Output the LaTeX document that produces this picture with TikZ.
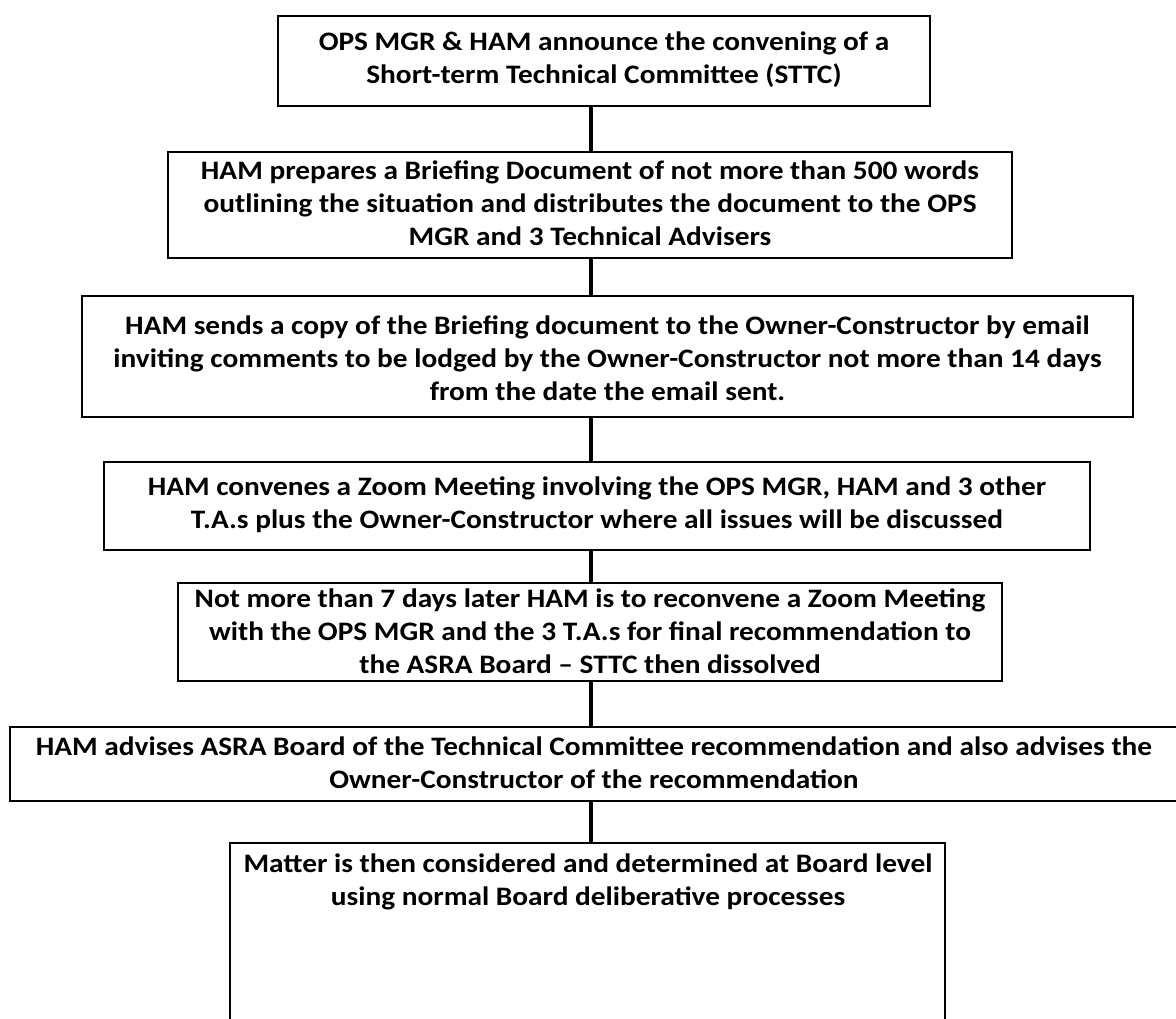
\documentclass[tikz,border=0pt]{standalone}
\usepackage{fontspec}
\setmainfont{Carlito}[FakeStretch=1.1]
\begin{document}
\begin{tikzpicture}[x=0.75pt,y=-0.75pt,
  stepbox/.style={draw=black, line width=1.5pt, fill=white, inner sep=0pt},
  steptext/.style={align=center, inner sep=0pt,
    font=\bfseries\fontsize{20}{24.8}\selectfont},
  link/.style={line width=3pt}]
\useasboundingbox (0,0) rectangle (1176,1018);
\fill[white] (0,0) rectangle (1176,1018);
\coordinate (spine) at (591,0);

% frames of the seven steps
\node[stepbox, minimum width=652*0.75pt, minimum height=90*0.75pt]  (b1) at (604,61) {};
\node[stepbox, minimum width=844*0.75pt, minimum height=106*0.75pt] (b2) at (590,205) {};
\node[stepbox, minimum width=1051*0.75pt, minimum height=121*0.75pt] (b3) at (607.5,356.5) {};
\node[stepbox, minimum width=986*0.75pt, minimum height=88*0.75pt]  (b4) at (597,506) {};
\node[stepbox, minimum width=824*0.75pt, minimum height=98*0.75pt]  (b5) at (590,632) {};
\node[stepbox, minimum width=1180*0.75pt, minimum height=74*0.75pt] (b6) at (600,764) {};
\node[stepbox, minimum width=715*0.75pt, minimum height=200*0.75pt] (b7) at (587.5,943) {};

% step texts
\node[steptext] (t1) at (604,60)
  {OPS MGR \& HAM announce the convening of a\\Short-term Technical Committee (STTC)};
\node[steptext] (t2) at (590,203)
  {HAM prepares a Briefing Document of not more than 500 words\\outlining the situation and distributes the document to the OPS\\MGR and 3 Technical Advisers};
\node[steptext] (t3) at (607.5,358)
  {HAM sends a copy of the Briefing document to the Owner-Constructor by email\\inviting comments to be lodged by the Owner-Constructor not more than 14 days\\from the date the email sent.};
\node[steptext] (t4) at (597,505)
  {HAM convenes a Zoom Meeting involving the OPS MGR, HAM and 3 other\\T.A.s plus the Owner-Constructor where all issues will be discussed};
\node[steptext] (t5) at (590,631)
  {Not more than 7 days later HAM is to reconvene a Zoom Meeting\\with the OPS MGR and the 3 T.A.s for final recommendation to\\the ASRA Board -- STTC then dissolved};
\node[steptext] (t6) at (594,763)
  {HAM advises ASRA Board of the Technical Committee recommendation and also advises the\\Owner-Constructor of the recommendation};
\node[steptext] (t7) at (588,882)
  {Matter is then considered and determined at Board level\\using normal Board deliberative processes};

% connectors between consecutive steps
\draw[link] (b1.south -| spine) -- (b2.north -| spine);
\draw[link] (b2.south -| spine) -- (b3.north -| spine);
\draw[link] (b3.south -| spine) -- (b4.north -| spine);
\draw[link] (b4.south -| spine) -- (b5.north -| spine);
\draw[link] (b5.south -| spine) -- (b6.north -| spine);
\draw[link] (b6.south -| spine) -- (b7.north -| spine);
\end{tikzpicture}
\end{document}
